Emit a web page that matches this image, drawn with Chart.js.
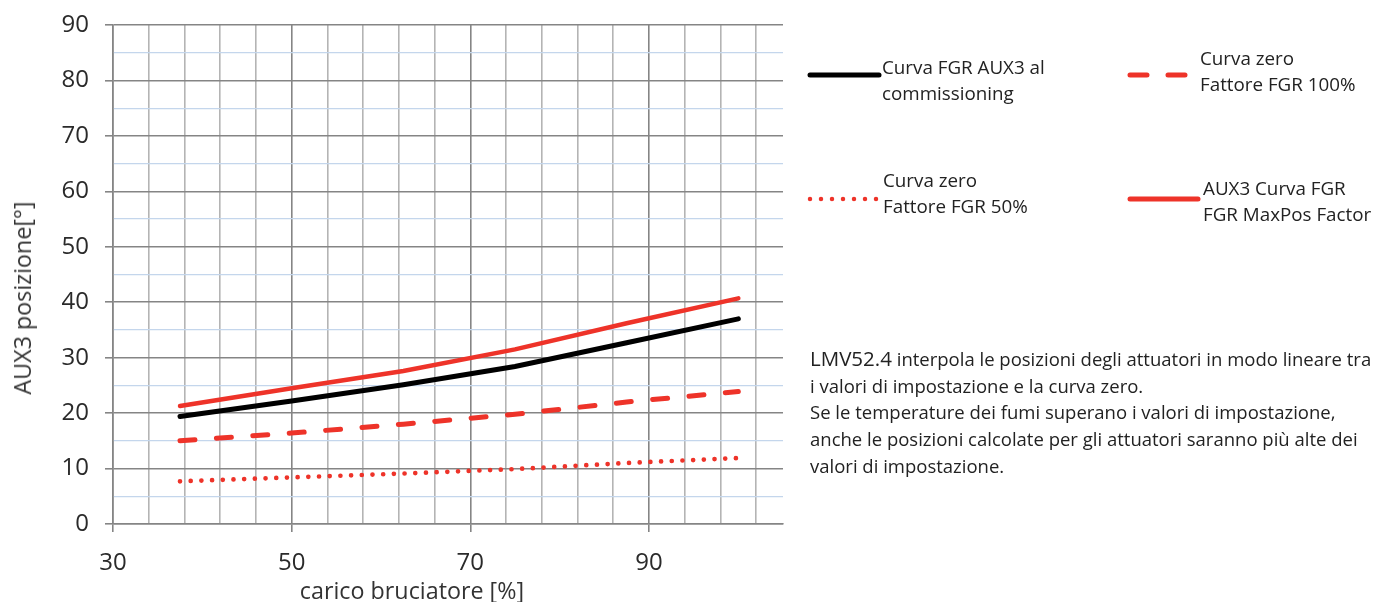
<!DOCTYPE html>
<html>
<head>
<meta charset="utf-8">
<script src="https://cdn.jsdelivr.net/npm/chart.js@4/dist/chart.umd.min.js"></script>
<style>
  html, body { margin: 0; padding: 0; background: #fff; width: 1382px; height: 602px; overflow: hidden; }
  body { position: relative; font-family: "Open Sans", sans-serif; color: #222; }
  #wrap { position: absolute; left: 0; top: 0; width: 800px; height: 602px; }
  .txt { position: absolute; white-space: nowrap; font-size: 18.8px; line-height: 25.5px; }
  .note { position: absolute; left: 810px; top: 345px; white-space: nowrap; font-size: 18.5px; line-height: 26.7px; }
  .note .big { font-size: 20.5px; }
  .axt { position: absolute; white-space: nowrap; font-size: 23.3px; color: #333; line-height: 30px; }
  #ytitle { left: 22px; top: 298px; transform: translate(-50%, -50%) rotate(-90deg); }
  #xtitle { left: 412px; top: 590px; transform: translate(-50%, -50%); }
  svg.leg { position: absolute; left: 0; top: 0; width: 1382px; height: 602px; pointer-events: none; }
</style>
</head>
<body>
<div id="wrap"><canvas id="c"></canvas></div>

<div class="axt" id="ytitle">AUX3 posizione[°]</div>
<div class="axt" id="xtitle">carico bruciatore [%]</div>

<svg class="leg" xmlns="http://www.w3.org/2000/svg">
  <line x1="810" y1="75" x2="879" y2="75" stroke="#000" stroke-width="5" stroke-linecap="round"/>
  <line x1="1130" y1="75" x2="1185" y2="75" stroke="#ee3329" stroke-width="5" stroke-linecap="round" stroke-dasharray="17 21"/>
  <line x1="810" y1="199" x2="877" y2="199" stroke="#ee3329" stroke-width="4.5" stroke-linecap="round" stroke-dasharray="0 11"/>
  <line x1="1130" y1="199" x2="1198" y2="199" stroke="#ee3329" stroke-width="5" stroke-linecap="round"/>
</svg>

<div class="txt" style="left:882px; top:55px;">Curva FGR AUX3 al<br>commissioning</div>
<div class="txt" style="left:1200px; top:46px;">Curva zero<br>Fattore FGR 100%</div>
<div class="txt" style="left:883px; top:168px;">Curva zero<br>Fattore FGR 50%</div>
<div class="txt" style="left:1203px; top:176px;">AUX3 Curva FGR<br>FGR MaxPos Factor</div>

<div class="note"><span class="big">LMV52.4</span> interpola le posizioni degli attuatori in modo lineare tra<br>i valori di impostazione e la curva zero.<br>Se le temperature dei fumi superano i valori di impostazione,<br>anche le posizioni calcolate per gli attuatori saranno più alte dei<br>valori di impostazione.</div>

<script>
// ---- data ----
const loadPct = [37.5, 50, 62.5, 75, 87.5, 100];
const curvaCommissioning = [19.4, 22.2, 25.1, 28.4, 32.7, 37.0];
const curvaMaxPos = [21.3, 24.5, 27.6, 31.5, 36.2, 40.7];
const curvaZero100 = [15.0, 16.4, 18.0, 19.8, 22.0, 23.9];
const curvaZero50 = [7.7, 8.4, 9.1, 9.9, 11.0, 11.9];

const xMin = 30, xMax = 105, xGridStep = 4;
const xLabelTicks = [30, 50, 70, 90];
const yMin = 0, yMax = 90, yGridStep = 5;
const yLabelTicks = [0, 10, 20, 30, 40, 50, 60, 70, 80, 90];

const RED = '#ee3329';
const MAJOR = '#858585';
const MINOR = '#b4b4b4';
const BLUE = '#c4d6ec';

function pts(ys) { return loadPct.map((x, i) => ({ x: x, y: ys[i] })); }

new Chart(document.getElementById('c'), {
  type: 'line',
  data: {
    datasets: [
      { label: 'Curva zero Fattore FGR 50%', data: pts(curvaZero50), borderColor: RED, borderWidth: 4.7,
        borderDash: [0, 10.7], borderCapStyle: 'round', pointRadius: 0, tension: 0, fill: false },
      { label: 'Curva zero Fattore FGR 100%', data: pts(curvaZero100), borderColor: RED, borderWidth: 5,
        borderDash: [15, 21.5], borderCapStyle: 'round', pointRadius: 0, tension: 0, fill: false },
      { label: 'Curva FGR AUX3 al commissioning', data: pts(curvaCommissioning), borderColor: '#000', borderWidth: 5,
        borderCapStyle: 'round', pointRadius: 0, tension: 0, fill: false },
      { label: 'AUX3 Curva FGR FGR MaxPos Factor', data: pts(curvaMaxPos), borderColor: RED, borderWidth: 4.5,
        borderCapStyle: 'round', pointRadius: 0, tension: 0, fill: false }
    ]
  },
  options: {
    responsive: true,
    maintainAspectRatio: false,
    animation: false,
    events: [],
    layout: { padding: { top: 25, right: 17, left: 0, bottom: 0 } },
    plugins: { legend: { display: false }, tooltip: { enabled: false } },
    scales: {
      x: {
        type: 'linear', min: xMin, max: xMax,
        afterBuildTicks: (axis) => {
          const t = [];
          for (let v = xMin; v < xMax; v += xGridStep) t.push({ value: v });
          axis.ticks = t;
        },
        afterFit: (s) => { s.height = 78; s.paddingLeft = 0; s.paddingRight = 0; },
        ticks: {
          autoSkip: false, maxRotation: 0, padding: 17,
          font: { family: 'Open Sans', size: 24 }, color: '#2a2a2a',
          callback: (v) => xLabelTicks.includes(v) ? String(v) : ''
        },
        grid: {
          drawTicks: true, tickLength: 8,
          color: (ctx) => ctx.tick && xLabelTicks.includes(ctx.tick.value) ? MAJOR : MINOR,
          lineWidth: 1.6,
          tickColor: (ctx) => ctx.tick && xLabelTicks.includes(ctx.tick.value) ? MAJOR : 'rgba(0,0,0,0)',
          tickWidth: 1.6
        },
        border: { display: true, color: MAJOR, width: 1.6 }
      },
      y: {
        type: 'linear', min: yMin, max: yMax,
        afterFit: (s) => { s.width = 113; s.paddingTop = 0; s.paddingBottom = 0; },
        ticks: {
          stepSize: yGridStep, autoSkip: false, padding: 16,
          font: { family: 'Open Sans', size: 24 }, color: '#2a2a2a',
          callback: (v) => yLabelTicks.includes(v) ? String(v) : ''
        },
        grid: {
          drawTicks: true, tickLength: 8,
          color: (ctx) => ctx.tick && yLabelTicks.includes(ctx.tick.value) ? MAJOR : BLUE,
          lineWidth: (ctx) => ctx.tick && yLabelTicks.includes(ctx.tick.value) ? 1.6 : 1.2,
          tickColor: (ctx) => ctx.tick && yLabelTicks.includes(ctx.tick.value) ? MAJOR : 'rgba(0,0,0,0)',
          tickWidth: 1.6
        },
        border: { display: true, color: MAJOR, width: 1.6 }
      }
    }
  }
});
</script>
</body>
</html>
